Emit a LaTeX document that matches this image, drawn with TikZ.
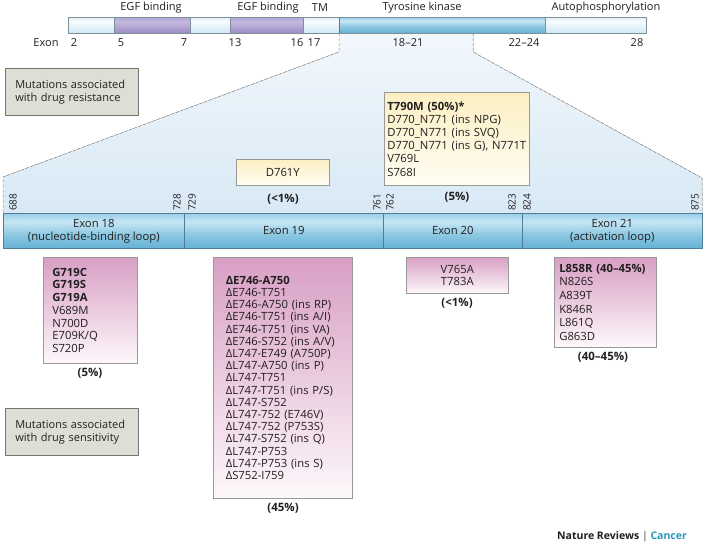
\documentclass[tikz,border=0pt]{standalone}
\usepackage{fontspec}
\setmainfont{Open Sans}
\definecolor{txt}{HTML}{231F20}
\definecolor{dashcol}{HTML}{8C8C8C}
\definecolor{barline}{HTML}{4F7F98}
\definecolor{topline}{HTML}{7D8F99}
\definecolor{bbot}{HTML}{64B1D5}
\definecolor{bmid}{HTML}{8DC8E2}
\definecolor{bhi}{HTML}{C6E6F4}
\definecolor{btop}{HTML}{98CFE8}
\definecolor{lbot}{HTML}{CFE8F3}
\definecolor{lhi}{HTML}{F7FBFD}
\definecolor{ltop}{HTML}{E2F1F8}
\definecolor{pbot}{HTML}{9A8BC4}
\definecolor{phi}{HTML}{C4B9E0}
\definecolor{ptop}{HTML}{B0A3D5}
\definecolor{pinktop}{HTML}{D89FC4}
\definecolor{pinkbot}{HTML}{FDF8FB}
\definecolor{yeltop}{HTML}{FCEFC2}
\definecolor{yelbot}{HTML}{FFFDF3}
\definecolor{grayfill}{HTML}{DEDFD4}
\definecolor{trtop}{HTML}{F2F7FC}
\definecolor{trbot}{HTML}{D8E9F5}
\definecolor{cancer}{HTML}{2A98B8}
\pgfdeclareverticalshading{bluebar}{100bp}{color(0bp)=(bbot);color(25bp)=(bbot);color(45bp)=(bmid);color(63bp)=(bhi);color(75bp)=(btop);color(100bp)=(btop)}
\pgfdeclareverticalshading{lightbar}{100bp}{color(0bp)=(lbot);color(25bp)=(lbot);color(60bp)=(lhi);color(75bp)=(ltop);color(100bp)=(ltop)}
\pgfdeclareverticalshading{purplebar}{100bp}{color(0bp)=(pbot);color(25bp)=(pbot);color(60bp)=(phi);color(75bp)=(ptop);color(100bp)=(ptop)}
\tikzset{
  lbl/.style={text=txt, font=\fontsize{11}{13}\selectfont, inner sep=0pt},
  pct/.style={lbl, font=\fontsize{11.5}{13}\selectfont\bfseries},
  num/.style={lbl, font=\fontsize{10}{12}\selectfont, rotate=90, anchor=west},
  exoncell/.style={draw=barline, line width=0.6pt, shading=bluebar, anchor=north west,
     minimum height=35, inner sep=0pt, align=center, text=txt, font=\fontsize{11.3}{13}\selectfont},
  pinkbox/.style={draw=gray!80, line width=0.6pt, top color=pinktop, bottom color=pinkbot,
     anchor=north west, inner sep=0pt, align=left, text=txt},
  yelbox/.style={draw=gray!80, line width=0.6pt, top color=yeltop, bottom color=yelbot,
     anchor=north west, inner sep=0pt, text=txt},
  graybox/.style={draw=gray!90!black, line width=0.6pt, fill=grayfill,
     anchor=north west, inner sep=0pt, align=left, text=txt, font=\fontsize{11}{13}\selectfont},
  dashline/.style={draw=dashcol, line width=0.5pt, dash pattern=on 3pt off 2pt},
  seg/.style={draw=topline, line width=0.5pt}
}
\begin{document}
\begin{tikzpicture}[x=1pt,y=-1pt]
\useasboundingbox (0,0) rectangle (705,547);
\fill[white] (0,0) rectangle (705,547);

% zoom trapezoid
\coordinate (tkL) at (339,33);
\coordinate (tkLb) at (339,52);
\coordinate (exL) at (3,177);
\coordinate (exLb) at (3,213);
\coordinate (tkR) at (473,33);
\coordinate (tkRb) at (473,52);
\coordinate (exR) at (702,178);
\coordinate (exRb) at (702,213);
\fill[top color=trtop, bottom color=trbot] (tkL) -- (tkLb) -- (exL) -- (exLb) -- (exRb) -- (exR) -- (tkRb) -- (tkR) -- cycle;
\draw[dashline] (tkL) -- (tkLb) -- (exL) -- (exLb);
\draw[dashline] (tkR) -- (tkRb) -- (exR) -- (exRb);

% top bar
\shade[shading=lightbar] (68,17) rectangle (114,33);
\shade[shading=purplebar] (114,17) rectangle (190,33);
\shade[shading=lightbar] (190,17) rectangle (230,33);
\shade[shading=purplebar] (230,17) rectangle (303,33);
\shade[shading=lightbar] (303,17) rectangle (339,33);
\shade[shading=bluebar] (339,17) rectangle (545,33);
\shade[shading=lightbar] (545,17) rectangle (646,33);
\draw[seg] (68,17) rectangle (646,33);
\foreach \xx in {114,190,230,303,339,545} \draw[seg] (\xx,17) -- (\xx,33);
\draw[draw=barline, line width=0.8pt] (339,17) -- (339,33);

\node[lbl] (egf1) at (151,8) {EGF binding};
\node[lbl] (egf2) at (268,8) {EGF binding};
\node[lbl] (tm) at (320,8) {TM};
\node[lbl] (tyk) at (422,8) {Tyrosine kinase};
\node[lbl] (auto) at (606,8) {Autophosphorylation};

\node[lbl] (exonlbl) at (46,43) {Exon};
\node[lbl] (n2) at (74,43) {2};
\node[lbl] (n5) at (121,43) {5};
\node[lbl] (n7) at (184,43) {7};
\node[lbl] (n13) at (235,43) {13};
\node[lbl] (n16) at (297,43) {16};
\node[lbl] (n17) at (314,43) {17};
\node[lbl] (n1821) at (408,43) {18–21};
\node[lbl] (n2224) at (524,43) {22–24};
\node[lbl] (n28) at (637,43) {28};

% exon bar
\node[exoncell, minimum width=181] (e18) at (3,213) {Exon 18\\(nucleotide-binding loop)};
\node[exoncell, minimum width=199] (e19) at (184,213) {Exon 19};
\node[exoncell, minimum width=139] (e20) at (383,213) {Exon 20};
\node[exoncell, minimum width=180] (e21) at (522,213) {Exon 21\\(activation loop)};

\node[num] (r688) at (13,211) {688};
\node[num] (r728) at (177,211) {728};
\node[num] (r729) at (192,211) {729};
\node[num] (r761) at (377,211) {761};
\node[num] (r762) at (390,211) {762};
\node[num] (r823) at (512,211) {823};
\node[num] (r824) at (527,211) {824};
\node[num] (r875) at (695,211) {875};

% resistance boxes
\node[graybox, minimum width=133, minimum height=47, text width=113] (resist) at (5,68) {Mutations associated\\with drug resistance};
\node[graybox, minimum width=133, minimum height=47, text width=113] (sens) at (5,408) {Mutations associated\\with drug sensitivity};

\node[yelbox, minimum width=93, minimum height=26, align=center, font=\fontsize{11.3}{13}\selectfont] (d761) at (236,159) {D761Y};
\node[pct] (p761) at (283,199) {(<1\%)};

\node[yelbox, minimum width=145, minimum height=93, text width=139, align=left, font=\fontsize{11.3}{13.2}\selectfont] (t790) at (384,92)
 {\textbf{T790M (50\%)*}\\D770\_N771 (ins NPG)\\D770\_N771 (ins SVQ)\\D770\_N771 (ins G), N771T\\V769L\\S768I};
\node[pct] (p790) at (457,197) {(5\%)};

% sensitivity boxes
\node[pinkbox, minimum width=94, minimum height=106, text width=76, font=\fontsize{11.3}{12.7}\selectfont] (g719) at (43,257)
 {\textbf{G719C}\\\textbf{G719S}\\\textbf{G719A}\\V689M\\N700D\\E709K/Q\\S720P};
\node[pct] (p719) at (90,373) {(5\%)};

\node[pinkbox, minimum width=139, minimum height=241, text width=114, font=\fontsize{11.3}{12.2}\selectfont] (e746) at (213,257)
 {\textbf{ΔE746-A750}\\ΔE746-T751\\ΔE746-A750 (ins RP)\\ΔE746-T751 (ins A/I)\\ΔE746-T751 (ins VA)\\ΔE746-S752 (ins A/V)\\ΔL747-E749 (A750P)\\ΔL747-A750 (ins P)\\ΔL747-T751\\ΔL747-T751 (ins P/S)\\ΔL747-S752\\ΔL747-752 (E746V)\\ΔL747-752 (P753S)\\ΔL747-S752 (ins Q)\\ΔL747-P753\\ΔL747-P753 (ins S)\\ΔS752-I759};
\node[pct] (p746) at (283,508) {(45\%)};

\node[pinkbox, minimum width=102, minimum height=36, align=center, font=\fontsize{11.3}{12}\selectfont] (v765) at (406,257) {V765A\\T783A};
\node[pct] (p765) at (457,303) {(<1\%)};

\node[pinkbox, minimum width=102, minimum height=90, text width=92, font=\fontsize{11.3}{13.6}\selectfont] (l858) at (554,257)
 {\textbf{L858R (40–45\%)}\\N826S\\A839T\\K846R\\L861Q\\G863D};
\node[pct] (p858) at (603,357) {(40–45\%)};

\node[lbl, font=\fontsize{10.5}{12}\selectfont\bfseries] (credit) at (622,537) {Nature Reviews {\color{gray}|} {\color{cancer}Cancer}};
\end{tikzpicture}
\end{document}
